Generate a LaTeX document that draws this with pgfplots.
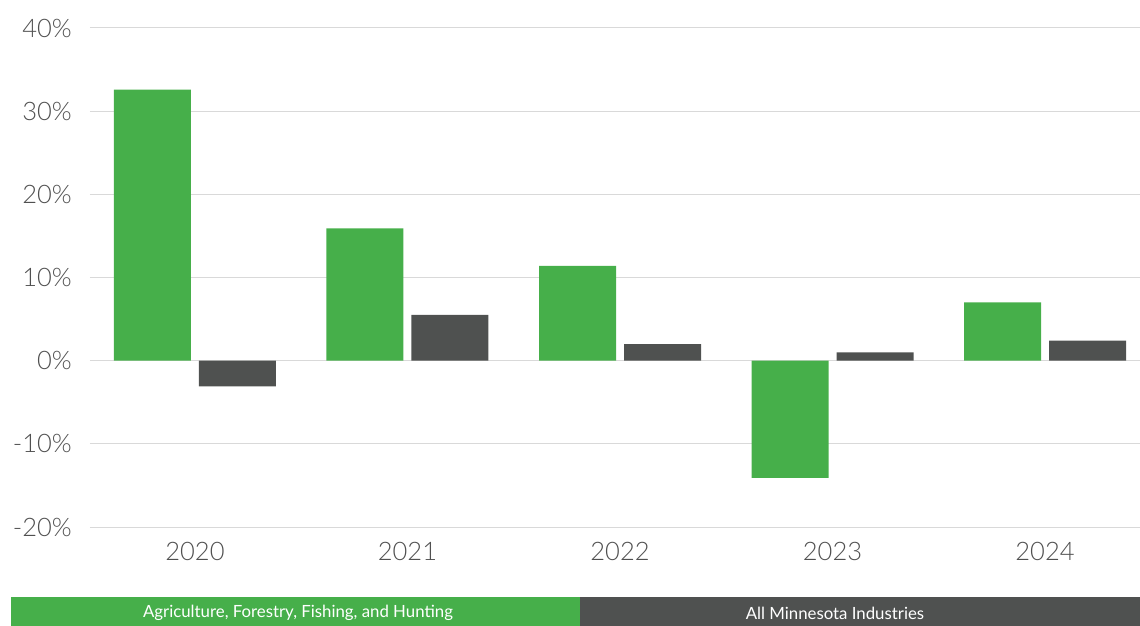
\documentclass[border=0pt]{standalone}
\usepackage{pgfplots}
\pgfplotsset{compat=1.18}
\usepackage{fontspec}
\setmainfont{Lato}
\newfontfamily\lightfont{Lato Light}
\definecolor{agr}{HTML}{46AF4A}
\definecolor{mn}{HTML}{4F5150}
\definecolor{gridc}{HTML}{D9D9D9}
\definecolor{tickc}{HTML}{505050}
\begin{document}
\begin{tikzpicture}[x=1pt,y=1pt]
\useasboundingbox (-90,-99) rectangle (1050,527);
\begin{axis}[
  at={(0,0)}, anchor=south west,
  scale only axis, width=1050pt, height=499pt,
  xmin=-0.494, xmax=4.447, ymin=-20, ymax=40,
  enlargelimits=false,
  ybar=8pt, bar width=77pt,
  axis line style={draw=none}, tick style={draw=none},
  ytick={-20,-10,0,10,20,30,40},
  yticklabels={-20\%,-10\%,0\%,10\%,20\%,30\%,40\%},
  xtick={0,1,2,3,4},
  xticklabels={2020,2021,2022,2023,2024},
  ymajorgrids, grid style={gridc, line width=1pt},
  tick label style={font=\lightfont\fontsize{25.5}{25.5}\selectfont, text=tickc, inner sep=0pt},
  yticklabel style={anchor=east, xshift=-18pt},
  xticklabel style={anchor=center, yshift=-20.5pt},
]
\addplot[fill=agr, draw=none] coordinates {(0,32.6) (1,15.9) (2,11.4) (3,-14.1) (4,7.0)};
\addplot[fill=mn, draw=none] coordinates {(0,-3.1) (1,5.5) (2,2.0) (3,1.0) (4,2.4)};
\end{axis}
\fill[agr] (-79,-70) rectangle (490,-99);
\fill[mn] (490,-70) rectangle (1050,-99);
\node[text=white, font=\fontsize{16.8}{16.8}\selectfont, inner sep=0pt] at (208,-86) {Agriculture, Forestry, Fishing, and Hunting};
\node[text=white, font=\fontsize{16.8}{16.8}\selectfont, inner sep=0pt] at (745,-86) {All Minnesota Industries};
\end{tikzpicture}
\end{document}
